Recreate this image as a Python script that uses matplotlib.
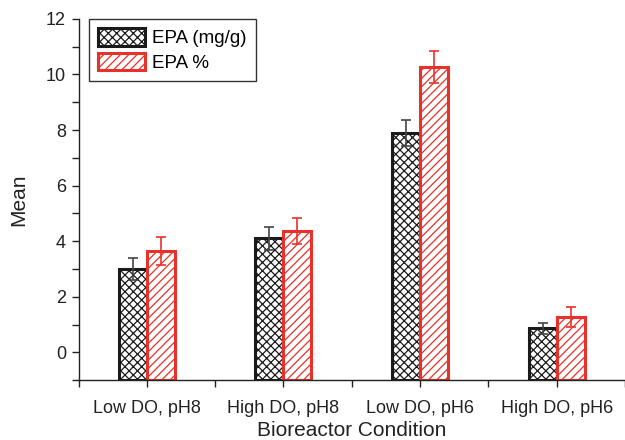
import matplotlib.pyplot as plt
import numpy as np
from matplotlib.ticker import MultipleLocator

conditions = ["Low DO, pH8", "High DO, pH8", "Low DO, pH6", "High DO, pH6"]
epa_mg = [2.99, 4.10, 7.89, 0.86]
epa_mg_err = [0.40, 0.40, 0.47, 0.19]
epa_pct = [3.64, 4.36, 10.27, 1.26]
epa_pct_err = [0.50, 0.47, 0.58, 0.36]

plt.rcParams['hatch.linewidth'] = 0.9
plt.rcParams['font.family'] = ['Liberation Sans', 'DejaVu Sans']

fig = plt.figure(figsize=(6.25, 4.4), dpi=100)
ax = fig.add_axes([0.1256, 0.136, 0.8744, 0.821])

x = np.arange(len(conditions))
width = 0.205
base = -1

red = '#e8312a'
ax.errorbar(x - width / 2, epa_mg, yerr=epa_mg_err, fmt='none', ecolor='#444444',
            elinewidth=1.2, capsize=3.3, capthick=1.2, zorder=3)
ax.errorbar(x + width / 2, epa_pct, yerr=epa_pct_err, fmt='none', ecolor=red,
            elinewidth=1.2, capsize=3.3, capthick=1.2, zorder=3)
ax.bar(x - width / 2, np.array(epa_mg) - base, width, bottom=base, color='white',
       edgecolor='#1a1a1a', hatch='xxxx', linewidth=2.2, label='EPA (mg/g)', zorder=2)
ax.bar(x + width / 2, np.array(epa_pct) - base, width, bottom=base, color='white',
       edgecolor=red, hatch='////', linewidth=2.2, label='EPA %', zorder=2)

ax.set_xlim(-0.5, 3.5)
ax.set_ylim(-1, 12)
ax.set_xticks(x)
ax.set_xticklabels(conditions, fontsize=13, color='#222222')
ax.xaxis.set_minor_locator(MultipleLocator(1, offset=0.5))
ax.set_yticks([0, 2, 4, 6, 8, 10, 12])
ax.yaxis.set_minor_locator(MultipleLocator(1))
ax.tick_params(axis='y', labelsize=13, labelcolor='#222222', pad=4)
ax.tick_params(which='both', direction='out', length=5, width=1, color='#222222')
ax.tick_params(axis='x', which='major', pad=9)

for s in ['top', 'right']:
    ax.spines[s].set_visible(False)
for s in ['left', 'bottom']:
    ax.spines[s].set_linewidth(1)
    ax.spines[s].set_color('#222222')

ax.set_xlabel("Bioreactor Condition", fontsize=15, color='#222222', labelpad=3)
ax.set_ylabel("Mean", fontsize=15, color='#222222', labelpad=13)

leg = ax.legend(loc='upper left', bbox_to_anchor=(0.019, 1.0), borderaxespad=0,
                fontsize=13.5, fancybox=False, edgecolor='#333333', framealpha=1,
                handlelength=2.5, handleheight=1.05, handletextpad=0.35,
                labelspacing=0.3, borderpad=0.5)
leg.get_frame().set_linewidth(1)

plt.savefig('out.png', dpi=100)
